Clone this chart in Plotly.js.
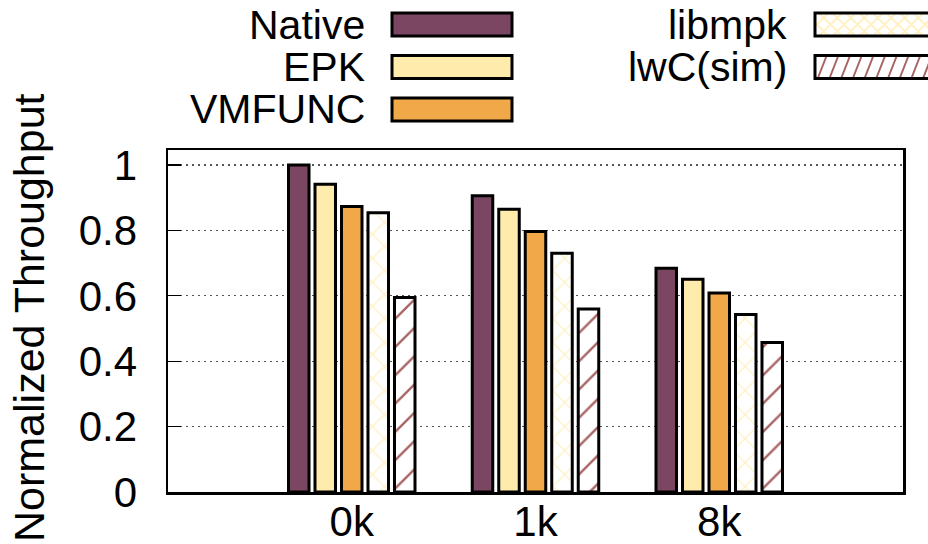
<!DOCTYPE html>
<html>
<head>
<meta charset="utf-8">
<script src="https://cdn.plot.ly/plotly-3.0.1.min.js"></script>
<style>
html,body{margin:0;padding:0;background:#fff;}
#chart{width:928px;height:544px;}
</style>
</head>
<body>
<div id="chart"></div>
<script>
// ---- data ----
const categories = ['0k', '1k', '8k'];
const seriesNames = ['Native', 'EPK', 'VMFUNC', 'libmpk', 'lwC(sim)'];
const nativeVals = [1.0, 0.906, 0.684];
const epkVals = [0.941, 0.865, 0.651];
const vmfuncVals = [0.873, 0.797, 0.609];
const libmpkVals = [0.854, 0.730, 0.543];
const lwcVals = [0.595, 0.560, 0.457];
const yTickVals = [0, 0.2, 0.4, 0.6, 0.8, 1];
const yTickText = ['0', '0.2', '0.4', '0.6', '0.8', '1'];
const yTitle = 'Normalized Throughput';

// ---- styles ----
const FONT = 'Liberation Sans, Arial, Helvetica, sans-serif';
const FS = 42;
const colors = ['#7a4662', '#ffebab', '#f0a848', '#ffffff', '#ffffff'];
const patterns = [
  {shape: ''},
  {shape: ''},
  {shape: ''},
  {shape: 'x', fgcolor: '#fff1c4', bgcolor: '#ffffff', size: 17, solidity: 0.14, fillmode: 'replace'},
  {shape: '/', fgcolor: '#a86464', bgcolor: '#ffffff', size: 20, solidity: 0.12, fillmode: 'replace'}
];
const allVals = [nativeVals, epkVals, vmfuncVals, libmpkVals, lwcVals];

const traces = seriesNames.map((name, i) => ({
  type: 'bar',
  name: name,
  x: categories,
  y: allVals[i],
  marker: {
    color: colors[i],
    line: {color: '#000', width: 3},
    pattern: patterns[i]
  },
  showlegend: false,
  hoverinfo: 'skip'
}));

// plot area in pixels
const W = 928, H = 544;
const L = 168, R = 903, T = 150, B = 492;
const px = x => (x - L) / (R - L);
const py = y => (B - y) / (B - T);

// ---- custom legend (text left of swatch, like gnuplot) ----
const legendRows = [
  {col: 0, row: 0}, {col: 0, row: 1}, {col: 0, row: 2},
  {col: 1, row: 0}, {col: 1, row: 1}
];
const colTextRight = [367, 789];
const colSwatchLeft = [392, 815];
const swatchW = 120;
const rowCenter = [24.5, 67, 109.5];
const swatchH = 23;

const shapes = [];
const annotations = [];
legendRows.forEach((p, i) => {
  const xr = colTextRight[p.col];
  const yc = rowCenter[p.row];
  annotations.push({
    xref: 'paper', yref: 'paper', x: px(xr), y: py(yc),
    xanchor: 'right', yanchor: 'middle', showarrow: false,
    text: seriesNames[i], font: {family: FONT, size: 41, color: '#000'}
  });
  const x0 = colSwatchLeft[p.col], x1 = x0 + swatchW;
  const y0 = yc - swatchH / 2, y1 = yc + swatchH / 2;
  // fill
  shapes.push({
    type: 'rect', xref: 'paper', yref: 'paper', layer: 'above',
    x0: px(x0), x1: px(x1), y0: py(y0), y1: py(y1),
    fillcolor: colors[i], line: {width: 0}
  });
  // pattern
  if (patterns[i].shape === '/') {
    let d = '';
    const step = 11.7, slant = 9;
    for (let sx = x0 - slant; sx < x1; sx += step) {
      let ax = sx, ay = y1, bx = sx + slant, by = y0;
      if (ax < x0) { ay = y1 - (x0 - ax) * (y1 - y0) / slant; ax = x0; }
      if (bx > x1) { by = y0 + (bx - x1) * (y1 - y0) / slant; bx = x1; }
      if (bx <= ax) continue;
      d += `M${px(ax)},${py(ay)}L${px(bx)},${py(by)}`;
    }
    shapes.push({type: 'path', xref: 'paper', yref: 'paper', layer: 'above', path: d,
      line: {color: patterns[i].fgcolor, width: 2}});
  } else if (patterns[i].shape === 'x') {
    let d = '';
    const step = 13.5, h = y1 - y0;
    for (let sx = x0 - h; sx < x1 + h; sx += step) {
      const segs = [[sx, y1, sx + h, y0], [sx, y0, sx + h, y1]];
      segs.forEach(([ax, ay, bx, by]) => {
        const k = (by - ay) / (bx - ax);
        if (ax < x0) { ay = ay + (x0 - ax) * k; ax = x0; }
        if (bx > x1) { by = by - (bx - x1) * k; bx = x1; }
        if (bx <= ax) return;
        d += `M${px(ax)},${py(ay)}L${px(bx)},${py(by)}`;
      });
    }
    shapes.push({type: 'path', xref: 'paper', yref: 'paper', layer: 'above', path: d,
      line: {color: patterns[i].fgcolor, width: 2}});
  }
  // outline
  shapes.push({
    type: 'rect', xref: 'paper', yref: 'paper', layer: 'above',
    x0: px(x0), x1: px(x1), y0: py(y0), y1: py(y1),
    fillcolor: 'rgba(0,0,0,0)', line: {color: '#000', width: 3}
  });
});

// y-axis title as rotated annotation
annotations.push({
  xref: 'paper', yref: 'paper', x: px(29), y: py(318),
  xanchor: 'center', yanchor: 'middle', showarrow: false, textangle: -90,
  text: yTitle, font: {family: FONT, size: 43, color: '#000'}
});

const layout = {
  width: W, height: H,
  margin: {l: L, r: W - R, t: T, b: H - B, pad: 0},
  paper_bgcolor: '#fff', plot_bgcolor: '#fff',
  barmode: 'group',
  bargap: 0.279,
  bargroupgap: 0.226,
  font: {family: FONT, size: FS, color: '#000'},
  xaxis: {
    type: 'category',
    range: [-1, 3],
    showline: true, linecolor: '#000', linewidth: 2.5, mirror: true,
    ticks: '', showgrid: false, zeroline: false,
    tickfont: {family: FONT, size: FS, color: '#000'},
    ticklabelstandoff: -9
  },
  yaxis: {
    range: [0, 1.046],
    tickvals: yTickVals, ticktext: yTickText,
    showline: true, linecolor: '#000', linewidth: 2.5, mirror: true,
    ticks: 'inside', ticklen: 13, tickwidth: 1.2, tickcolor: '#000',
    showgrid: true, gridcolor: '#555', gridwidth: 1.2, griddash: '2px,4px',
    zeroline: false,
    tickfont: {family: FONT, size: FS, color: '#000'},
    ticklabelstandoff: 20
  },
  shapes: shapes,
  annotations: annotations
};

Plotly.newPlot('chart', traces, layout, {staticPlot: true, displayModeBar: false});
</script>
</body>
</html>
